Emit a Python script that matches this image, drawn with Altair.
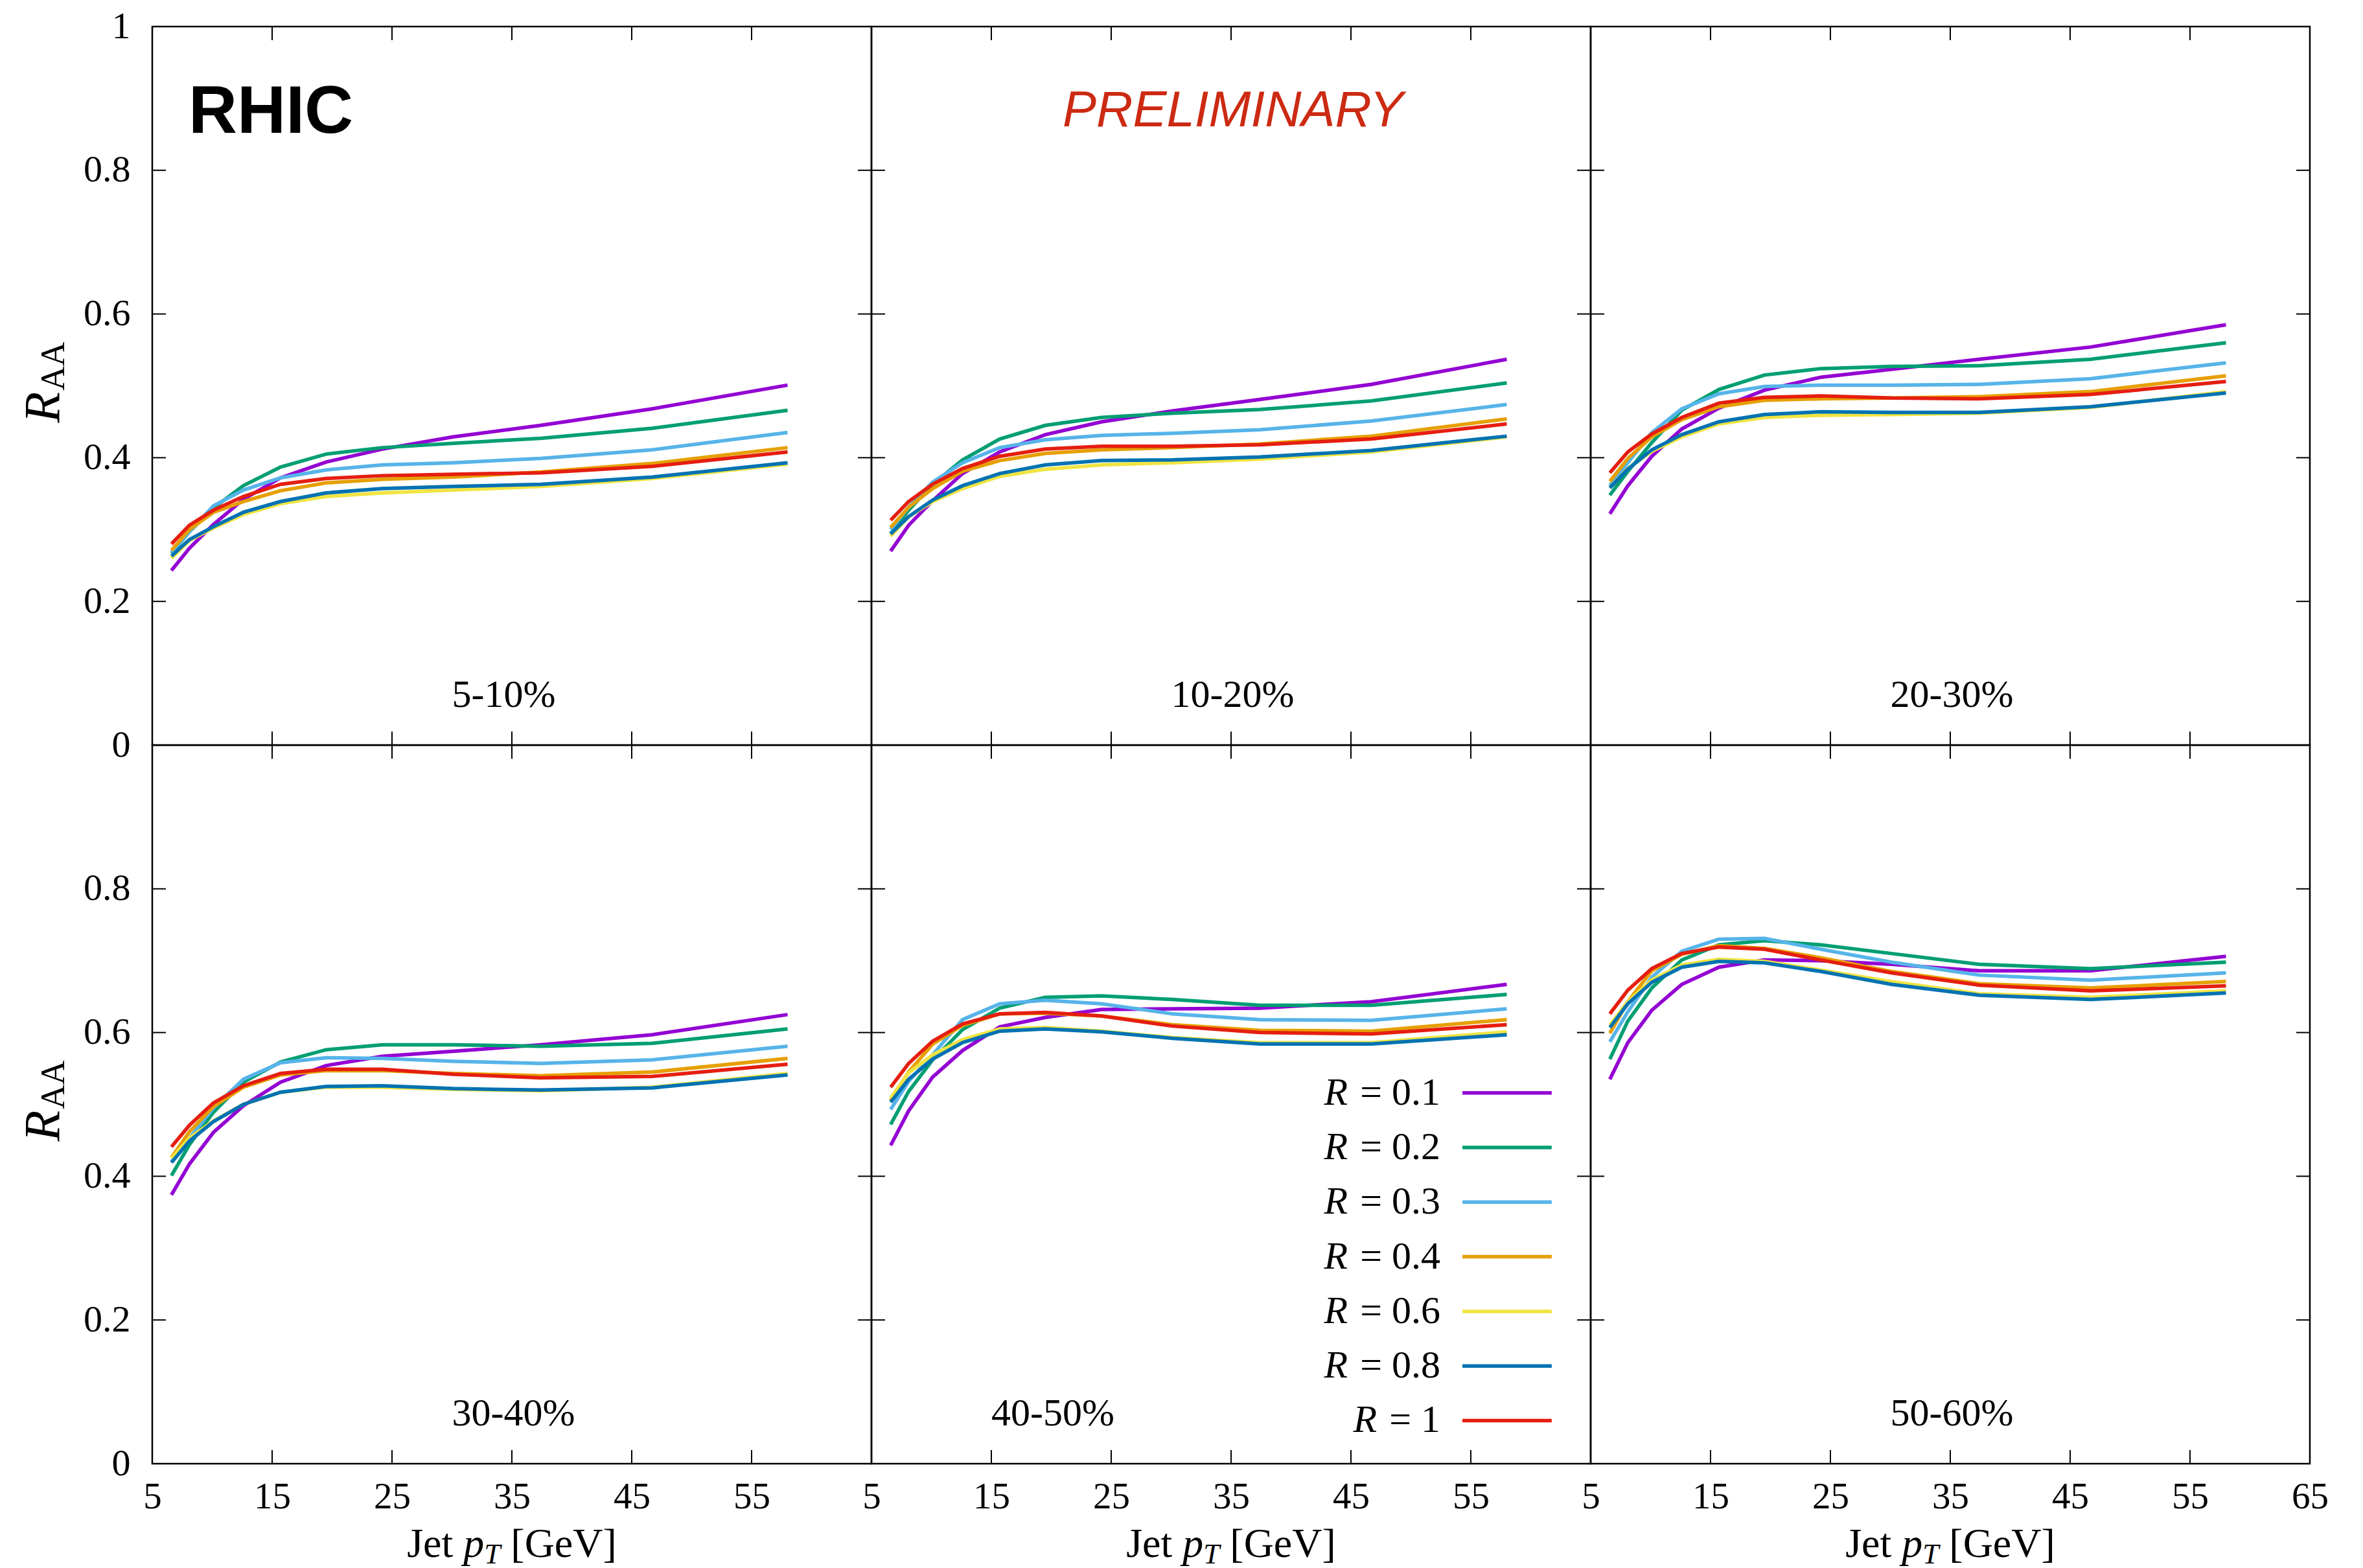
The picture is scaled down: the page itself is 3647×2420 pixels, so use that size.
import altair as alt
import pandas as pd

# ---------------- data ----------------
PT = [6.6, 8.1, 10.1, 12.6, 15.7, 19.5, 24.2, 30.1, 37.4, 46.7, 58.0]
R_VALUES = ["0.1", "0.2", "0.3", "0.4", "0.6", "0.8", "1"]
COLORS = ["#9400d3", "#009e73", "#56b4e9", "#e69f00", "#f0e442", "#0072b2", "#e51e10"]
CENTRALITY = ["5-10%", "10-20%", "20-30%", "30-40%", "40-50%", "50-60%"]

RAA_05_10 = {
    "0.1": [0.243, 0.274, 0.307, 0.342, 0.372, 0.394, 0.412, 0.429, 0.445, 0.468, 0.501],
    "0.2": [0.267, 0.297, 0.330, 0.361, 0.387, 0.405, 0.414, 0.420, 0.427, 0.441, 0.466],
    "0.3": [0.268, 0.297, 0.333, 0.355, 0.372, 0.383, 0.390, 0.393, 0.399, 0.411, 0.435],
    "0.4": [0.271, 0.300, 0.324, 0.339, 0.354, 0.365, 0.370, 0.373, 0.380, 0.392, 0.414],
    "0.6": [0.260, 0.285, 0.302, 0.321, 0.336, 0.346, 0.351, 0.355, 0.360, 0.371, 0.391],
    "0.8": [0.263, 0.286, 0.304, 0.324, 0.339, 0.351, 0.357, 0.360, 0.363, 0.373, 0.393],
    "1":   [0.280, 0.306, 0.327, 0.346, 0.363, 0.371, 0.375, 0.377, 0.379, 0.388, 0.408],
}
RAA_10_20 = {
    "0.1": [0.270, 0.306, 0.340, 0.378, 0.408, 0.432, 0.450, 0.465, 0.481, 0.502, 0.537],
    "0.2": [0.294, 0.327, 0.363, 0.397, 0.426, 0.445, 0.456, 0.462, 0.467, 0.479, 0.504],
    "0.3": [0.300, 0.331, 0.366, 0.393, 0.414, 0.425, 0.431, 0.434, 0.439, 0.451, 0.474],
    "0.4": [0.303, 0.331, 0.357, 0.381, 0.396, 0.406, 0.411, 0.414, 0.419, 0.430, 0.454],
    "0.6": [0.291, 0.318, 0.339, 0.357, 0.374, 0.384, 0.390, 0.393, 0.398, 0.408, 0.429],
    "0.8": [0.294, 0.318, 0.341, 0.361, 0.378, 0.390, 0.396, 0.397, 0.401, 0.410, 0.430],
    "1":   [0.313, 0.339, 0.363, 0.385, 0.402, 0.412, 0.416, 0.416, 0.418, 0.426, 0.447],
}
RAA_20_30 = {
    "0.1": [0.322, 0.361, 0.402, 0.440, 0.469, 0.494, 0.512, 0.523, 0.537, 0.554, 0.585],
    "0.2": [0.348, 0.381, 0.421, 0.466, 0.495, 0.515, 0.524, 0.527, 0.528, 0.537, 0.560],
    "0.3": [0.361, 0.393, 0.435, 0.468, 0.489, 0.499, 0.501, 0.501, 0.502, 0.510, 0.532],
    "0.4": [0.367, 0.399, 0.429, 0.453, 0.471, 0.480, 0.482, 0.483, 0.485, 0.492, 0.514],
    "0.6": [0.358, 0.385, 0.409, 0.429, 0.447, 0.456, 0.459, 0.460, 0.462, 0.470, 0.492],
    "0.8": [0.358, 0.384, 0.411, 0.432, 0.450, 0.460, 0.464, 0.463, 0.463, 0.471, 0.490],
    "1":   [0.379, 0.408, 0.433, 0.456, 0.476, 0.484, 0.486, 0.483, 0.482, 0.488, 0.506],
}
RAA_30_40 = {
    "0.1": [0.374, 0.417, 0.461, 0.498, 0.531, 0.554, 0.567, 0.574, 0.583, 0.597, 0.625],
    "0.2": [0.401, 0.444, 0.489, 0.531, 0.559, 0.576, 0.583, 0.583, 0.581, 0.585, 0.605],
    "0.3": [0.420, 0.453, 0.495, 0.535, 0.558, 0.565, 0.564, 0.560, 0.557, 0.562, 0.581],
    "0.4": [0.426, 0.462, 0.497, 0.524, 0.541, 0.547, 0.547, 0.543, 0.540, 0.545, 0.564],
    "0.6": [0.425, 0.453, 0.477, 0.500, 0.517, 0.524, 0.524, 0.521, 0.519, 0.524, 0.543],
    "0.8": [0.419, 0.449, 0.476, 0.500, 0.517, 0.525, 0.526, 0.522, 0.520, 0.523, 0.541],
    "1":   [0.441, 0.471, 0.502, 0.526, 0.543, 0.549, 0.549, 0.542, 0.537, 0.539, 0.556],
}
RAA_40_50 = {
    "0.1": [0.443, 0.491, 0.538, 0.575, 0.608, 0.621, 0.632, 0.633, 0.634, 0.643, 0.667],
    "0.2": [0.472, 0.518, 0.562, 0.604, 0.634, 0.649, 0.651, 0.646, 0.638, 0.638, 0.653],
    "0.3": [0.493, 0.532, 0.569, 0.618, 0.640, 0.645, 0.640, 0.626, 0.618, 0.617, 0.633],
    "0.4": [0.505, 0.545, 0.584, 0.610, 0.626, 0.627, 0.623, 0.611, 0.603, 0.602, 0.618],
    "0.6": [0.509, 0.544, 0.569, 0.590, 0.605, 0.607, 0.602, 0.593, 0.586, 0.586, 0.601],
    "0.8": [0.503, 0.535, 0.563, 0.586, 0.602, 0.605, 0.601, 0.592, 0.584, 0.584, 0.597],
    "1":   [0.524, 0.557, 0.588, 0.612, 0.626, 0.628, 0.623, 0.609, 0.600, 0.598, 0.611],
}
RAA_50_60 = {
    "0.1": [0.535, 0.586, 0.631, 0.667, 0.691, 0.701, 0.700, 0.695, 0.686, 0.686, 0.706],
    "0.2": [0.563, 0.616, 0.662, 0.701, 0.722, 0.728, 0.722, 0.710, 0.695, 0.689, 0.698],
    "0.3": [0.587, 0.629, 0.677, 0.713, 0.730, 0.731, 0.716, 0.698, 0.680, 0.673, 0.683],
    "0.4": [0.599, 0.643, 0.686, 0.709, 0.721, 0.717, 0.704, 0.685, 0.668, 0.662, 0.671],
    "0.6": [0.610, 0.643, 0.673, 0.694, 0.702, 0.699, 0.687, 0.671, 0.654, 0.649, 0.658],
    "0.8": [0.607, 0.640, 0.670, 0.691, 0.699, 0.697, 0.685, 0.667, 0.652, 0.646, 0.655],
    "1":   [0.626, 0.659, 0.689, 0.710, 0.719, 0.716, 0.701, 0.683, 0.666, 0.658, 0.665],
}
PANELS = [RAA_05_10, RAA_10_20, RAA_20_30, RAA_30_40, RAA_40_50, RAA_50_60]

X_TICKS = [15, 25, 35, 45, 55]
Y_TICKS = [0.2, 0.4, 0.6, 0.8]
X_LABELS = [5, 15, 25, 35, 45, 55]
X_LABELS_LAST = [5, 15, 25, 35, 45, 55, 65]
Y_LABELS_TOP = [0, 0.2, 0.4, 0.6, 0.8, 1]
Y_LABELS_BOTTOM = [0, 0.2, 0.4, 0.6, 0.8]
LABEL_X = [30, 30, 30, 30, 15, 30]

# ---------------- styling ----------------
W, H = 1110, 1109
TICK = 21
SERIF = "Liberation Serif"
SANS = "Liberation Sans"
LW = 5.5

REG_W = {"J": .389, "e": .444, "t": .278, " ": .25, "[": .333, "G": .722, "V": .722,
         "]": .333, "=": .564, ".": .25, "A": .722}
ITA_W = {"p": .5, "T": .556, "R": .611}


def tw(s, size, italic=False):
    table = ITA_W if italic else REG_W
    return sum(table.get(ch, 0.5) for ch in s) * size


xscale = alt.Scale(domain=[5, 65], nice=False, zero=False)
yscale = alt.Scale(domain=[0, 1], nice=False, zero=False)


def txt(s, x, y, size, italic=False, bold=False, align="left", baseline="alphabetic",
        angle=0, color="black", font=SERIF):
    kw = dict(fontSize=size, font=font, align=align, baseline=baseline, color=color)
    if italic:
        kw["fontStyle"] = "italic"
    if bold:
        kw["fontWeight"] = "bold"
    if angle:
        kw["angle"] = angle
    return alt.Chart(pd.DataFrame({"t": [s]})).mark_text(**kw).encode(
        text="t:N", x=alt.value(x), y=alt.value(y))


def panel(idx):
    raa = PANELS[idx]
    row, col = divmod(idx, 3)
    recs = []
    for r in R_VALUES:
        for x, y in zip(PT, raa[r]):
            recs.append({"pt": x, "raa": y, "R": r})
    df = pd.DataFrame(recs)

    xaxis = None
    if row == 1:
        xaxis = alt.Axis(values=X_LABELS_LAST if col == 2 else X_LABELS, title=None,
                         ticks=False, domain=False, grid=False, labelFlush=False,
                         labelOverlap=False, labelBound=False, labelPadding=23,
                         labelFontSize=57, labelFont=SERIF, labelColor="black", format="d")
    yaxis = None
    if col == 0:
        yaxis = alt.Axis(values=Y_LABELS_TOP if row == 0 else Y_LABELS_BOTTOM, title=None,
                         ticks=False, domain=False, grid=False, labelOverlap=False,
                         labelBound=False, labelFlush=False, labelPadding=34,
                         labelFontSize=58, labelFont=SERIF, labelColor="black",
                         labelExpr="datum.value == 0 ? '0' : datum.value == 1 ? '1' : format(datum.value, '.1f')")

    X = lambda: alt.X("pt:Q", scale=xscale, axis=xaxis)
    Y = lambda: alt.Y("raa:Q", scale=yscale, axis=yaxis)
    colour = alt.Color("R:N", scale=alt.Scale(domain=R_VALUES, range=COLORS), legend=None)

    lines = alt.Chart(df).mark_line(strokeWidth=LW).encode(
        x=X(), y=Y(), color=colour, order="pt:Q")

    xt = pd.DataFrame({"pt": X_TICKS})
    yt = pd.DataFrame({"raa": Y_TICKS})
    rule = dict(color="black", strokeWidth=2)
    top_t = alt.Chart(xt).mark_rule(**rule).encode(x=X(), y=alt.value(0), y2=alt.value(TICK))
    bot_t = alt.Chart(xt).mark_rule(**rule).encode(x=X(), y=alt.value(H - TICK), y2=alt.value(H))
    left_t = alt.Chart(yt).mark_rule(**rule).encode(y=Y(), x=alt.value(0), x2=alt.value(TICK))
    right_t = alt.Chart(yt).mark_rule(**rule).encode(y=Y(), x=alt.value(W - TICK), x2=alt.value(W))

    lab = alt.Chart(pd.DataFrame({"pt": [LABEL_X[idx]], "raa": [0.053], "t": [CENTRALITY[idx]]})
                    ).mark_text(fontSize=60, font=SERIF, align="left", baseline="alphabetic",
                                color="black").encode(x=X(), y=Y(), text="t:N")

    layers = [lines, top_t, bot_t, left_t, right_t, lab]

    if col == 0:
        # y-axis title R_AA
        yb = H / 2 + 57
        layers.append(txt("R", -144, yb, 78, italic=True, angle=270))
        layers.append(txt("AA", -136, yb - tw("R", 78, True) - 2, 52, angle=270))
    if row == 1:
        # x-axis title Jet p_T [GeV]
        fs, fss = 64, 45
        parts = [("Jet", fs, False, 0), (" ", fs, False, None), ("p", fs, True, 0),
                 ("T", fss, True, 10), (" ", fs, False, None), ("[GeV]", fs, False, 0)]
        total = sum(tw(s, f, it) for s, f, it, _ in parts)
        x0 = W / 2 - total / 2
        yb = H + 144
        for s, f, it, dy in parts:
            if dy is not None:
                layers.append(txt(s, x0, yb + dy, f, italic=it))
            x0 += tw(s, f, it)
    if idx == 0:
        layers.append(txt("RHIC", 56, 164, 104, bold=True, font=SANS))
    if idx == 1:
        layers.append(txt("PRELIMINARY", 558, 154, 78, italic=True, align="center",
                          font=SANS, color="#cc2a12"))
    if idx == 4:
        ys = [0.516 - 0.076 * i for i in range(len(R_VALUES))]
        leg_lines = pd.DataFrame({"pt": [54.3] * 7, "pt2": [61.75] * 7, "raa": ys, "R": R_VALUES})
        layers.append(alt.Chart(leg_lines).mark_rule(strokeWidth=LW).encode(
            x=X(), x2="pt2:Q", y=Y(), color=colour))
        right_px = 878
        eq = ["= " + r for r in R_VALUES]
        eq_x = [5 + right_px / W * 60] * 7
        r_x = [5 + (right_px - tw(e, 60) - 19) / W * 60 for e in eq]
        layers.append(alt.Chart(pd.DataFrame({"pt": eq_x, "raa": ys, "t": eq})).mark_text(
            fontSize=60, font=SERIF, align="right", baseline="middle", color="black").encode(
            x=X(), y=Y(), text="t:N"))
        layers.append(alt.Chart(pd.DataFrame({"pt": r_x, "raa": ys, "t": ["R"] * 7})).mark_text(
            fontSize=60, font=SERIF, fontStyle="italic", align="right", baseline="middle",
            color="black").encode(x=X(), y=Y(), text="t:N"))

    return alt.layer(*layers).properties(width=W, height=H)


chart = alt.concat(*[panel(i) for i in range(6)], columns=3, spacing=0, bounds="flush")
chart = chart.properties(
    padding={"left": 19, "top": 2, "right": 5, "bottom": 5}
).configure(background="white").configure_view(stroke="black", strokeWidth=2.5)

chart.save("out.html", embed_options={"renderer": "svg", "actions": False})
